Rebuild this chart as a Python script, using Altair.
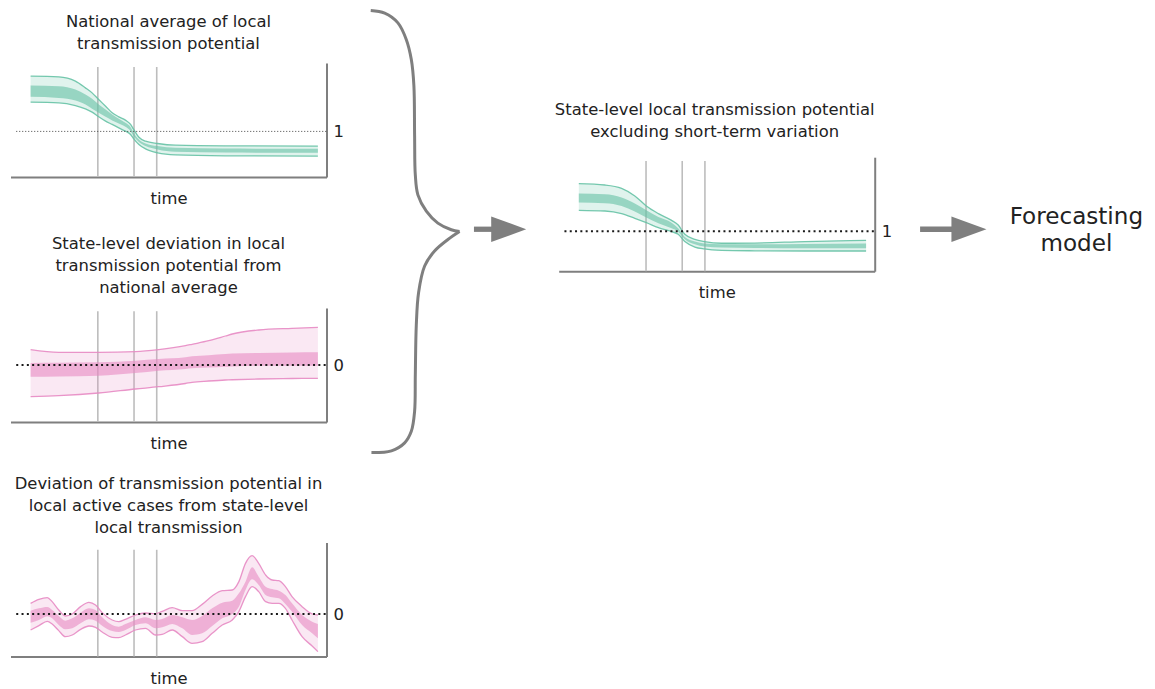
import altair as alt
import pandas as pd

FONT = "DejaVu Sans"
TXT = "#222222"
AXC = "#7f7f7f"
VLC = "#bdbdbd"
GREEN = "#66c2a5"
PINK = "#e78ac3"
FS = 16.4

X_DOMAIN = [-7, 103]
PW, PH = 316, 114
event_t = [23.4, 36.0, 43.9]

# Panel 1: national average of local transmission potential
p1_t = [0, 9.8, 15.6, 19.1, 21.4, 23.7, 26.1, 28.4, 30.7, 33.0, 34.8, 35.9, 37.7, 40.0, 44.2, 50.4, 67.8, 100]
p1_ou = [1.484, 1.479, 1.441, 1.382, 1.338, 1.280, 1.221, 1.163, 1.128, 1.099, 1.061, 1.017, 0.949, 0.914, 0.894, 0.879, 0.873, 0.871]
p1_iu = [1.403, 1.397, 1.368, 1.324, 1.286, 1.236, 1.192, 1.148, 1.110, 1.075, 1.037, 0.987, 0.929, 0.894, 0.871, 0.856, 0.850, 0.847]
p1_il = [1.303, 1.294, 1.271, 1.236, 1.198, 1.163, 1.128, 1.096, 1.069, 1.040, 1.002, 0.958, 0.906, 0.871, 0.841, 0.821, 0.815, 0.812]
p1_ol = [1.256, 1.251, 1.227, 1.198, 1.169, 1.128, 1.090, 1.061, 1.031, 1.002, 0.973, 0.935, 0.885, 0.847, 0.812, 0.794, 0.786, 0.783]

# Panel 2: state-level deviation from national average
p2_t = [0, 9.8, 23.7, 36.5, 44.6, 53.9, 56.2, 62, 67.8, 70.2, 79.4, 91, 100]
p2_ou = [0.306, 0.254, 0.254, 0.266, 0.306, 0.386, 0.414, 0.486, 0.58, 0.62, 0.70, 0.734, 0.754]
p2_iu = [0.04, 0.044, 0.054, 0.086, 0.12, 0.154, 0.174, 0.196, 0.22, 0.228, 0.24, 0.25, 0.254]
p2_il = [-0.234, -0.228, -0.214, -0.16, -0.114, -0.08, -0.066, -0.05, -0.034, -0.028, -0.014, -0.014, -0.014]
p2_ol = [-0.634, -0.614, -0.56, -0.48, -0.434, -0.37, -0.346, -0.32, -0.3, -0.295, -0.28, -0.27, -0.266]

# Panel 3: deviation in local active cases
p3_t = [0, 2.9, 5.8, 7.5, 9.8, 12.1, 14.5, 17.4, 20.3, 22.6, 24.9, 28.4, 30.7, 33.0, 36.5, 40.0, 43.5, 45.8, 49.3,
        52.8, 56.2, 59.7, 63.2, 66.7, 70.2, 72.5, 74.8, 77.1, 79.4, 81.8, 84.1, 86.4, 88.7, 91.0, 94.5, 98.0, 100]
p3_ou = [0.213, 0.293, 0.327, 0.247, 0.08, -0.04, 0.0, 0.147, 0.233, 0.18, 0.027, -0.12, -0.153, -0.107, -0.02, 0.02,
         0.007, 0.053, 0.127, 0.067, 0.067, 0.193, 0.36, 0.467, 0.48, 0.647, 1.013, 1.167, 1.013, 0.78, 0.68, 0.667,
         0.547, 0.347, 0.147, 0.0, -0.02]
p3_iu = [0.067, 0.113, 0.14, 0.08, -0.04, -0.133, -0.087, 0.027, 0.113, 0.08, -0.067, -0.22, -0.253, -0.2, -0.12,
         -0.067, -0.12, -0.1, -0.02, -0.067, -0.12, -0.04, 0.113, 0.227, 0.267, 0.413, 0.647, 0.933, 0.747, 0.547,
         0.5, 0.467, 0.38, 0.213, -0.02, -0.153, -0.2]
p3_il = [-0.173, -0.12, -0.047, -0.087, -0.22, -0.307, -0.287, -0.187, -0.107, -0.133, -0.233, -0.34, -0.36, -0.32,
         -0.22, -0.187, -0.287, -0.267, -0.2, -0.287, -0.42, -0.387, -0.24, -0.087, 0.0, 0.147, 0.48, 0.693, 0.58,
         0.38, 0.333, 0.313, 0.2, 0.047, -0.22, -0.387, -0.487]
p3_ol = [-0.32, -0.233, -0.147, -0.2, -0.333, -0.453, -0.42, -0.307, -0.24, -0.267, -0.36, -0.467, -0.473, -0.42,
         -0.32, -0.287, -0.42, -0.407, -0.32, -0.453, -0.587, -0.553, -0.387, -0.22, -0.12, 0.047, 0.347, 0.547,
         0.447, 0.247, 0.213, 0.213, 0.113, -0.12, -0.453, -0.64, -0.753]

# Panel 4: state-level local transmission potential excluding short-term variation
p4_t = [0, 9.1, 14.9, 19.5, 23.5, 27.7, 32.3, 34.6, 36.9, 40.4, 43.7, 49.7, 61.3, 78.7, 100]
p4_ou = [1.418, 1.406, 1.377, 1.310, 1.222, 1.155, 1.096, 1.055, 0.974, 0.930, 0.910, 0.895, 0.897, 0.910, 0.921]
p4_iu = [1.331, 1.325, 1.296, 1.243, 1.184, 1.125, 1.076, 1.026, 0.950, 0.910, 0.892, 0.886, 0.886, 0.889, 0.892]
p4_il = [1.252, 1.246, 1.222, 1.173, 1.120, 1.070, 1.026, 0.997, 0.930, 0.886, 0.866, 0.857, 0.854, 0.851, 0.851]
p4_ol = [1.184, 1.178, 1.155, 1.114, 1.076, 1.032, 0.997, 0.974, 0.910, 0.862, 0.845, 0.833, 0.829, 0.827, 0.827]

# Curly brace shape (normalised: u 0 = open side .. 1 = tip, w 0 = top .. 1 = bottom)
brace_u = [0, 0.157, 0.306, 0.401, 0.457, 0.486, 0.494, 0.502, 0.531, 0.626, 0.756, 0.907, 1.0,
           1.0, 0.869, 0.719, 0.607, 0.539, 0.513, 0.502, 0.494, 0.457, 0.382, 0.233, 0.008]
brace_w = [0, 0.006, 0.028, 0.066, 0.111, 0.170, 0.283, 0.372, 0.417, 0.454, 0.481, 0.496, 0.5,
           0.5, 0.518, 0.544, 0.578, 0.638, 0.712, 0.824, 0.907, 0.952, 0.978, 0.996, 1.0]
brace_part = ["upper"] * 13 + ["lower"] * 12
brace_box = {"t_open": -72.43, "t_tip": -41.52, "y_top": 2.937, "y_bot": -0.941}

arrow_t = [-36.5, 118.8]
arrow_t2 = [-29.3, 130.8]
head_t = [-24.4, 135.8]
arrow_y = 1.018

out_label = "Forecasting\nmodel"
out_t = 173.2
out_y = 1.061


def x_enc():
    return alt.X("t:Q", scale=alt.Scale(domain=X_DOMAIN, nice=False, zero=False),
                 axis=alt.Axis(title="time", labels=False, ticks=False, grid=False,
                               domainColor=AXC, domainWidth=2, titleFont=FONT,
                               titleFontSize=FS, titleFontWeight="normal",
                               titleColor=TXT, titlePadding=13.5))


def y_maker(domain, ref):
    def y_enc(field):
        return alt.Y(f"{field}:Q", scale=alt.Scale(domain=domain, nice=False, zero=False),
                     axis=alt.Axis(orient="right", title="", values=[ref], format="d",
                                   ticks=False, tickSize=0, grid=False, domainColor=AXC,
                                   domainWidth=2, labelFont=FONT, labelFontSize=FS,
                                   labelColor=TXT, labelPadding=6.5))
    return y_enc


def panel(t, ou, iu, il, ol, color, ydom, ref, vtop, dash, title_lines, title_offset,
          extra=None, title_dx=0):
    X = x_enc()
    Y = y_maker(ydom, ref)
    band = alt.Chart(pd.DataFrame({"t": t, "ou": ou, "iu": iu, "il": il, "ol": ol}))
    ev = alt.Chart(pd.DataFrame({"t": event_t, "top": [vtop] * 3, "bot": [ydom[0]] * 3})).mark_rule(
        color=VLC, strokeWidth=1.6).encode(x=X, y=Y("top"), y2="bot")
    outer = band.mark_area(color=color, opacity=0.2, interpolate="monotone").encode(x=X, y=Y("ou"), y2="ol")
    inner = band.mark_area(color=color, opacity=0.6, interpolate="monotone").encode(x=X, y=Y("iu"), y2="il")
    up = band.mark_line(color=color, opacity=0.9, strokeWidth=1.3, interpolate="monotone").encode(x=X, y=Y("ou"))
    lo = band.mark_line(color=color, opacity=0.9, strokeWidth=1.3, interpolate="monotone").encode(x=X, y=Y("ol"))
    refline = alt.Chart(pd.DataFrame({"t": [-5, 103], "y": [ref, ref]})).mark_line(
        color=dash[0], strokeWidth=dash[1], strokeDash=dash[2]).encode(x=X, y=Y("y"))
    layers = [ev, outer, inner, up, lo, refline]
    if extra:
        layers += extra(X, Y)
    return alt.layer(*layers).properties(
        width=PW, height=PH,
        title=alt.TitleParams(text=title_lines, font=FONT, fontSize=FS, fontWeight="normal",
                              color=TXT, anchor="middle", frame="group", offset=title_offset,
                              lineHeight=22, dx=title_dx))


THIN = ("#444444", 1, [1, 2])
BOLD = ("#1a1a1a", 2, [2, 3.3])


def p1_extra(X, Y):
    # invisible (white) spacer stroke right of the axis label, fixes the column's right edge
    helper = alt.Chart(pd.DataFrame({"t": [105.08], "t2": [109.6], "y": [1.455]})).mark_rule(
        color="white", strokeWidth=1).encode(x=X, x2="t2", y=Y("y"))
    return [helper]


def p4_extra(X, Y):
    b = brace_box
    bdf = pd.DataFrame({
        "t": [b["t_open"] + u * (b["t_tip"] - b["t_open"]) for u in brace_u],
        "y": [b["y_top"] + w * (b["y_bot"] - b["y_top"]) for w in brace_w],
        "k": list(range(len(brace_u))),
        "part": brace_part,
    })
    brace = alt.Chart(bdf).mark_line(color=AXC, strokeWidth=3, strokeJoin="round",
                                     interpolate="catmull-rom").encode(
        x=X, y=Y("y"), order="k:Q", detail="part:N")
    shafts = alt.Chart(pd.DataFrame({"t": arrow_t, "t2": arrow_t2, "y": [arrow_y] * 2})).mark_rule(
        color=AXC, strokeWidth=5.3).encode(x=X, x2="t2", y=Y("y"))
    heads = alt.Chart(pd.DataFrame({"t": head_t, "y": [arrow_y] * 2})).mark_point(
        shape="M-1,-0.73L1,0L-1,0.73Z", size=1225, filled=True, color=AXC, opacity=1,
        strokeWidth=0).encode(x=X, y=Y("y"))
    label = alt.Chart(pd.DataFrame({"t": [out_t], "y": [out_y], "label": [out_label]})).mark_text(
        font=FONT, fontSize=23.1, color=TXT, align="center", baseline="alphabetic",
        lineBreak="\n", lineHeight=26.7).encode(x=X, y=Y("y"), text="label:N")
    return [brace, shafts, heads, label]


p1 = panel(p1_t, p1_ou, p1_iu, p1_il, p1_ol, GREEN, [0.6, 1.6], 1, 1.565, THIN,
           ["National average of local", "transmission potential"], 10.8, extra=p1_extra)
p2 = panel(p2_t, p2_ou, p2_iu, p2_il, p2_ol, PINK, [-1.14, 1.14], 0, 1.076, BOLD,
           ["State-level deviation in local", "transmission potential from", "national average"], 11.8)
p3 = panel(p3_t, p3_ou, p3_iu, p3_il, p3_ol, PINK, [-0.85, 1.43], 0, 1.284, BOLD,
           ["Deviation of transmission potential in", "local active cases from state-level",
            "local transmission"], 6.3)
p4 = panel(p4_t, p4_ou, p4_iu, p4_il, p4_ol, GREEN, [0.65, 1.65], 1, 1.617, BOLD,
           ["State-level local transmission potential", "excluding short-term variation"], -131.7,
           extra=p4_extra, title_dx=-2)

spacer = alt.Chart(pd.DataFrame({"s": [0]})).mark_point(opacity=0, size=1).encode(
    x=alt.X("s:Q", axis=None), y=alt.Y("s:Q", axis=None)).properties(width=1, height=1)

leftcol = alt.vconcat(p1, alt.vconcat(p2, p3, spacing=120.5, bounds="flush"), spacing=131, bounds="flush")
rightcol = alt.vconcat(spacer, p4, spacing=93.2, bounds="flush")
chart = alt.hconcat(leftcol, rightcol, spacing=22.2).properties(
    padding={"left": 2.5, "top": 0, "right": 0, "bottom": 0}
).configure_view(strokeWidth=0)

chart.save("out.html", embed_options={"renderer": "svg", "actions": False})
